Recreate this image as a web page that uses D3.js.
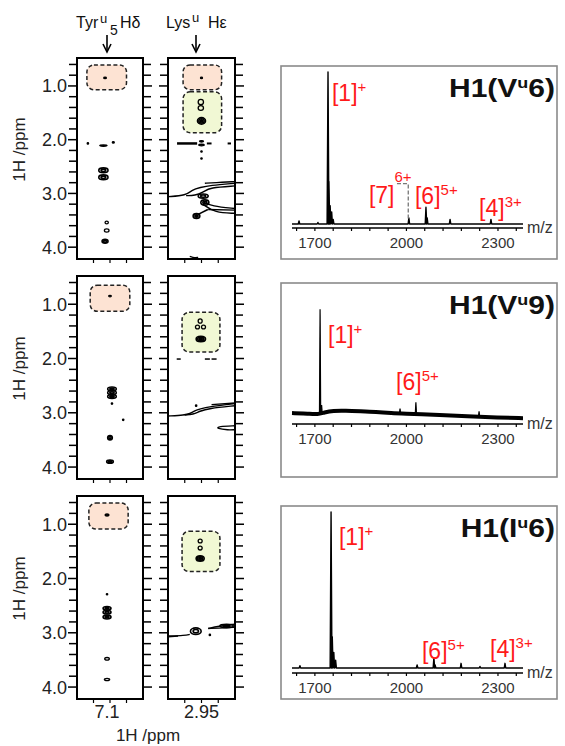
<!DOCTYPE html>
<html>
<head>
<meta charset="utf-8">
<script src="https://cdnjs.cloudflare.com/ajax/libs/d3/7.8.5/d3.min.js"></script>
<style>
body { margin: 0; background: #fff; }
svg { display: block; font-family: "Liberation Sans", Arial, sans-serif; }
</style>
</head>
<body>
<svg id="fig" width="565" height="746"></svg>
<script>
// ---------- NMR strips (values in ppm) ----------
var ppmRange = [0.48, 4.22];
var yTicks = d3.range(0.6, 4.05, 0.2);
var yLabels = [1.0, 2.0, 3.0, 4.0];
var tyrRange = [7.2, 7.0];
var lysRange = [3.05, 2.85];
var tyrTicks = [7.15, 7.1, 7.05];
var lysTicks = [3.0, 2.95, 2.9];
var xLabels = ["7.1", "2.95"];

// highlight regions: row, col, x0, x1, y0, y1, kind
var boxes = [
    [0, 0, 7.17, 7.05, 0.61, 1.07, "m"],
    [0, 1, 3.005, 2.89, 0.61, 1.07, "m"],
    [0, 1, 3.005, 2.89, 1.11, 1.87, "g"],
    [1, 0, 7.16, 7.04, 0.65, 1.13, "m"],
    [1, 1, 3.008, 2.895, 1.15, 1.88, "g"],
    [2, 0, 7.164, 7.045, 0.61, 1.09, "m"],
    [2, 1, 3.008, 2.895, 1.13, 1.87, "g"]
];

// cross peaks: row, col, x, y, half width x, half width y, contour levels, filled
var peaks = [
    [0, 0, 7.115, 0.85, 0.004, 0.015, 1, true],
    [0, 0, 7.12, 2.11, 0.011, 0.012, 1, true],
    [0, 0, 7.167, 2.07, 0.002, 0.01, 1, true],
    [0, 0, 7.09, 2.05, 0.003, 0.01, 1, true],
    [0, 0, 7.12, 2.57, 0.014, 0.045, 2, false],
    [0, 0, 7.12, 2.70, 0.014, 0.045, 2, false],
    [0, 0, 7.11, 3.54, 0.005, 0.025, 1, false],
    [0, 0, 7.11, 3.69, 0.007, 0.03, 1, false],
    [0, 0, 7.115, 3.89, 0.009, 0.035, 2, false],
    [0, 1, 2.95, 0.85, 0.003, 0.012, 1, true],
    [0, 1, 2.952, 1.30, 0.008, 0.05, 1, false],
    [0, 1, 2.952, 1.41, 0.008, 0.045, 1, false],
    [0, 1, 2.95, 1.65, 0.012, 0.06, 3, true],
    [0, 1, 2.95, 2.03, 0.006, 0.012, 1, true],
    [0, 1, 2.95, 2.10, 0.008, 0.015, 1, true],
    [0, 1, 2.95, 2.22, 0.002, 0.01, 1, true],
    [0, 1, 2.95, 2.35, 0.002, 0.01, 1, true],
    [0, 1, 2.965, 3.42, 0.01, 0.045, 2, true],
    [0, 1, 2.945, 3.05, 0.015, 0.04, 2, false],
    [0, 1, 2.94, 3.17, 0.012, 0.05, 2, false],
    [1, 0, 7.1, 0.85, 0.004, 0.012, 1, false],
    [1, 0, 7.094, 2.56, 0.013, 0.035, 2, true],
    [1, 0, 7.094, 2.63, 0.013, 0.035, 2, false],
    [1, 0, 7.094, 2.70, 0.013, 0.035, 2, true],
    [1, 0, 7.094, 2.83, 0.002, 0.01, 1, true],
    [1, 0, 7.06, 3.13, 0.002, 0.008, 1, true],
    [1, 0, 7.1, 3.46, 0.007, 0.04, 2, false],
    [1, 0, 7.1, 3.9, 0.01, 0.03, 2, true],
    [1, 1, 2.954, 1.31, 0.006, 0.04, 1, false],
    [1, 1, 2.962, 1.42, 0.006, 0.035, 1, false],
    [1, 1, 2.944, 1.42, 0.006, 0.035, 1, false],
    [1, 1, 2.952, 1.64, 0.014, 0.05, 3, true],
    [1, 1, 2.966, 2.87, 0.002, 0.008, 1, true],
    [2, 0, 7.109, 0.83, 0.006, 0.02, 1, true],
    [2, 0, 7.109, 2.29, 0.002, 0.01, 1, true],
    [2, 0, 7.109, 2.55, 0.012, 0.035, 2, true],
    [2, 0, 7.109, 2.62, 0.012, 0.035, 2, false],
    [2, 0, 7.109, 2.71, 0.012, 0.035, 2, true],
    [2, 0, 7.109, 3.48, 0.007, 0.025, 1, false],
    [2, 0, 7.109, 3.86, 0.008, 0.02, 1, false],
    [2, 1, 2.954, 1.31, 0.006, 0.035, 1, false],
    [2, 1, 2.954, 1.44, 0.006, 0.035, 1, false],
    [2, 1, 2.954, 1.63, 0.012, 0.05, 3, true],
    [2, 1, 2.967, 2.97, 0.016, 0.06, 2, false],
    [2, 1, 2.925, 3.04, 0.002, 0.008, 1, true],
    [2, 1, 2.875, 2.875, 0.02, 0.03, 2, false]
];

// ridges / streaks in the Lys strips: row, line width, points [x, y]
var ridges = [
    [0, 2.5, [[3.023, 2.07], [2.963, 2.07]]],
    [0, 2, [[2.934, 2.07], [2.92, 2.07]]],
    [0, 2, [[2.872, 2.07], [2.862, 2.07]]],
    [0, 1.4, [[3.05, 3.06], [2.996, 3.04], [2.978, 2.93], [2.954, 2.89], [2.925, 2.85], [2.85, 2.81]]],
    [0, 1.4, [[2.996, 3.04], [2.969, 3.04], [2.946, 2.98], [2.925, 2.89], [2.85, 2.86]]],
    [0, 1.4, [[2.94, 2.81], [2.91, 2.80], [2.85, 2.78]]],
    [0, 1.4, [[2.946, 3.15], [2.919, 3.24], [2.85, 3.28]]],
    [0, 1.4, [[2.946, 3.2], [2.91, 3.36], [2.85, 3.37]]],
    [0, 1.4, [[2.93, 3.3], [2.85, 3.31]]],
    [0, 1.6, [[2.96, 3.39], [2.931, 3.30]]],
    [0, 1.3, [[2.985, 4.17], [2.97, 4.2], [2.96, 4.19]]],
    [1, 1.5, [[3.024, 2.01], [3.012, 2.01]]],
    [1, 1.5, [[2.94, 2.01], [2.925, 2.01]]],
    [1, 1.5, [[2.92, 2.01], [2.905, 2.01]]],
    [1, 1.4, [[3.05, 3.06], [3.0, 3.04], [2.985, 3.02], [2.97, 2.96], [2.954, 2.93], [2.93, 2.89], [2.85, 2.83]]],
    [1, 1.4, [[3.0, 3.04], [2.975, 3.03], [2.955, 2.97], [2.93, 2.92], [2.85, 2.87]]],
    [1, 1.4, [[2.92, 2.85], [2.85, 2.82]]],
    [1, 1.4, [[2.85, 3.24], [2.9, 3.25], [2.905, 3.29], [2.87, 3.32], [2.85, 3.31]]],
    [2, 1.4, [[3.05, 3.06], [3.0, 3.05], [2.985, 3.03]]],
    [2, 1.4, [[3.05, 3.075], [3.02, 3.06]]],
    [2, 1.4, [[2.93, 2.92], [2.9, 2.88], [2.85, 2.84]]],
    [2, 1.4, [[2.93, 2.92], [2.88, 2.91], [2.85, 2.895]]]
];

// ---------- MALDI spectra ----------
var mzDomain = [1625, 2382];
var mzTicks = d3.range(1640, 2381, 60);
var mzLabels = [1700, 2000, 2300];
var msTitles = [["H1(V", "u", "6)"], ["H1(V", "u", "9)"], ["H1(I", "u", "6)"]];
// [m/z, relative intensity]
var spec1 = [[1648, 2], [1710, 1], [1743, 100], [1746, 28], [1750, 12], [1755, 8], [1760, 3],
             [2008, 4], [2064, 11], [2068, 4], [2143, 3], [2277, 3]];
var spec2 = [[1717, 84], [1722, 8], [1979, 5], [2031, 10], [2238, 3]];
var spec3 = [[1651, 1.5], [1753, 100], [1757, 20], [1762, 10], [1768, 5],
             [2035, 2], [2090, 6.5], [2094, 2], [2179, 3], [2241, 1], [2323, 3]];
var noise2 = [[1625, 1.5], [1680, 1.0], [1710, 0.5], [1730, 2], [1760, 3.5], [1800, 3.5],
              [1850, 3], [1900, 2.5], [1950, 1.5], [2000, 1], [2050, 0.5], [2100, 0],
              [2200, -1], [2300, -2], [2382, -2.5]];
// label: ion number, charge, m/z anchor, intensity anchor
var ions1 = [["1", "+", 1756, 81], ["7", "6+", 1877, 14], ["6", "5+", 2028, 13], ["4", "3+", 2238, 5]];
var ions2 = [["1", "+", 1743, 57], ["6", "5+", 1966, 20]];
var ions3 = [["1", "+", 1779, 79], ["6", "5+", 2051, 6], ["4", "3+", 2274, 7]];
var connector1 = [[1969, 26.5], [2006, 26.5], [2006, 3]];

var svg = d3.select("#fig");
svg.append("rect").attr("width", 565).attr("height", 746).attr("fill", "#fff");

// ---------- NMR layout ----------
var rowTop = [58, 276, 496], rowBottom = [259, 479, 699];
var colLeft = [77, 168], colRight = [143, 235];
var boxColors = { m: "#fde3d3", g: "#f1f8d4" };

function xScaleFor(col) {
    return d3.scaleLinear().domain(col == 0 ? tyrRange : lysRange).range([colLeft[col], colRight[col]]);
}
function yScaleFor(row) {
    return d3.scaleLinear().domain(ppmRange).range([rowTop[row], rowBottom[row]]);
}

for (var r = 0; r < 3; r++) {
    var y = yScaleFor(r);
    for (var c = 0; c < 2; c++) {
        var x = xScaleFor(c);
        var g = svg.append("g");
        // highlight boxes
        boxes.filter(function (b) { return b[0] == r && b[1] == c; }).forEach(function (b) {
            g.append("rect")
                .attr("x", x(b[2])).attr("y", y(b[4]))
                .attr("width", x(b[3]) - x(b[2])).attr("height", y(b[5]) - y(b[4]))
                .attr("rx", 7).attr("ry", 7)
                .attr("fill", boxColors[b[6]])
                .attr("stroke", "#222").attr("stroke-width", 1.5)
                .attr("stroke-dasharray", "4,2.5");
        });
        // ridges
        var line = d3.line().x(function (d) { return x(d[0]); }).y(function (d) { return y(d[1]); }).curve(d3.curveBasis);
        ridges.filter(function (rd) { return rd[0] == r && c == 1; }).forEach(function (rd) {
            g.append("path").attr("d", line(rd[2])).attr("fill", "none")
                .attr("stroke", "#000").attr("stroke-width", rd[1]);
        });
        // peaks
        peaks.filter(function (p) { return p[0] == r && p[1] == c; }).forEach(function (p) {
            var rx = Math.abs(x(p[2] + p[4]) - x(p[2]));
            var ry = Math.abs(y(p[3] + p[5]) - y(p[3]));
            for (var k = p[6]; k >= 1; k--) {
                g.append("ellipse")
                    .attr("cx", x(p[2])).attr("cy", y(p[3]))
                    .attr("rx", Math.max(rx * k / p[6], 0.7)).attr("ry", Math.max(ry * k / p[6], 0.7))
                    .attr("fill", (k == 1 && p[7]) ? "#000" : "none")
                    .attr("stroke", "#000").attr("stroke-width", p[6] > 1 ? 1.6 : 1.3);
            }
        });
        // frame
        g.append("rect").attr("x", colLeft[c]).attr("y", rowTop[r])
            .attr("width", colRight[c] - colLeft[c]).attr("height", rowBottom[r] - rowTop[r])
            .attr("fill", "none").attr("stroke", "#000").attr("stroke-width", 2);
        // y ticks both sides
        yTicks.forEach(function (t) {
            var len = yLabels.some(function (v) { return Math.abs(v - t) < 1e-6; }) ? 9 : 8;
            g.append("line").attr("x1", colLeft[c] - len).attr("x2", colLeft[c])
                .attr("y1", y(t)).attr("y2", y(t)).attr("stroke", "#000").attr("stroke-width", 1.5);
            g.append("line").attr("x1", colRight[c]).attr("x2", colRight[c] + len)
                .attr("y1", y(t)).attr("y2", y(t)).attr("stroke", "#000").attr("stroke-width", 1.5);
        });
        // x ticks at bottom
        (c == 0 ? tyrTicks : lysTicks).forEach(function (t) {
            g.append("line").attr("x1", x(t)).attr("x2", x(t))
                .attr("y1", rowBottom[r]).attr("y2", rowBottom[r] + 4)
                .attr("stroke", "#000").attr("stroke-width", 1.2);
        });
        if (c == 0) {
            yLabels.forEach(function (t) {
                g.append("text").attr("x", 67).attr("y", y(t) + 6.5)
                    .attr("text-anchor", "end").attr("font-size", 18).attr("fill", "#222")
                    .text(t.toFixed(1));
            });
        }
    }
    svg.append("text")
        .attr("transform", "translate(25," + ((rowTop[r] + rowBottom[r]) / 2 - 9) + ") rotate(-90)")
        .attr("text-anchor", "middle").attr("font-size", 17).attr("fill", "#222")
        .text("1H /ppm");
}

// bottom x labels
svg.append("text").attr("x", xScaleFor(0)(7.1) - 3).attr("y", 718).attr("text-anchor", "middle")
    .attr("font-size", 18).attr("fill", "#222").text(xLabels[0]);
svg.append("text").attr("x", xScaleFor(1)(2.95)).attr("y", 718).attr("text-anchor", "middle")
    .attr("font-size", 18).attr("fill", "#222").text(xLabels[1]);
svg.append("text").attr("x", 148).attr("y", 741).attr("text-anchor", "middle")
    .attr("font-size", 17).attr("fill", "#222").text("1H /ppm");

// column headers with arrows; parts: x, y, size, text
function header(parts, arrowX) {
    parts.forEach(function (p) {
        svg.append("text").attr("x", p[0]).attr("y", p[1])
            .attr("font-size", p[2]).attr("fill", "#111").text(p[3]);
    });
    svg.append("line").attr("x1", arrowX).attr("x2", arrowX).attr("y1", 35).attr("y2", 51)
        .attr("stroke", "#000").attr("stroke-width", 1.6);
    svg.append("path").attr("d", "M" + (arrowX - 4) + ",44 L" + arrowX + ",52 L" + (arrowX + 4) + ",44")
        .attr("fill", "none").attr("stroke", "#000").attr("stroke-width", 1.6);
}
header([[76, 28, 16, "Tyr"], [100, 23, 13, "u"], [110, 35, 14, "5"], [120, 28, 16, "H\u03b4"]], 107);
header([[166, 28, 16, "Lys"], [192, 22, 13, "u"], [208, 28, 16, "H\u03b5"]], 196);

// ---------- MS panels ----------
var msLeft = 281, msRight = 557;
var msBox = [
    { top: 66, bottom: 259, base: 224, axis: 228 },
    { top: 283, bottom: 477, base: 415, axis: 424 },
    { top: 506, bottom: 699, base: 668, axis: 673 }
];
var specs = [spec1, spec2, spec3];
var ions = [ions1, ions2, ions3];
var mz = d3.scaleLinear().domain(mzDomain).range([292, 523]);

msBox.forEach(function (b, i) {
    var g = svg.append("g");
    var inten = d3.scaleLinear().domain([0, 100]).range([b.base, b.top + 6]);
    g.append("rect").attr("x", msLeft).attr("y", b.top)
        .attr("width", msRight - msLeft).attr("height", b.bottom - b.top)
        .attr("fill", "#fff").attr("stroke", "#8a8a8a").attr("stroke-width", 1.6);

    // spectrum trace
    var pts = [[mzDomain[0], 0]];
    specs[i].slice().sort(function (a, b2) { return a[0] - b2[0]; }).forEach(function (p) {
        var w = p[1] > 50 ? 3 : 2.5;
        pts.push([p[0] - w, 0], [p[0], p[1]], [p[0] + w, 0]);
    });
    pts.push([mzDomain[1], 0]);
    var trace = d3.line().x(function (d) { return mz(d[0]); }).y(function (d) { return inten(d[1]); });
    if (i == 1) {
        var base = d3.scaleLinear().domain(noise2.map(function (d) { return d[0]; }))
            .range(noise2.map(function (d) { return d[1]; }));
        var band = d3.line().x(function (d) { return mz(d[0]); }).y(function (d) { return inten(d[1]); })
            .curve(d3.curveBasis);
        g.append("path").attr("d", band(noise2)).attr("fill", "none")
            .attr("stroke", "#000").attr("stroke-width", 4);
        specs[i].forEach(function (p) {
            var b0 = base(p[0]);
            g.append("path").attr("d", trace([[p[0] - 2, b0], [p[0], p[1]], [p[0] + 2, b0]]))
                .attr("fill", "#000").attr("stroke", "#000").attr("stroke-width", 1.2);
        });
    } else {
        g.append("path").attr("d", trace(pts)).attr("fill", "#000")
            .attr("stroke", "#000").attr("stroke-width", 1.4).attr("stroke-linejoin", "round");
    }

    // x axis
    g.append("line").attr("x1", mz(mzDomain[0])).attr("x2", mz(mzDomain[1]))
        .attr("y1", b.axis).attr("y2", b.axis).attr("stroke", "#000").attr("stroke-width", 1.5);
    mzTicks.forEach(function (t) {
        g.append("line").attr("x1", mz(t)).attr("x2", mz(t)).attr("y1", b.axis).attr("y2", b.axis + 3)
            .attr("stroke", "#000").attr("stroke-width", 1.2);
    });
    mzLabels.forEach(function (t) {
        g.append("text").attr("x", mz(t)).attr("y", b.axis + 20).attr("text-anchor", "middle")
            .attr("font-size", 15).attr("fill", "#333").text(t);
    });
    g.append("text").attr("x", 527).attr("y", b.axis + 5).attr("font-size", 16).attr("fill", "#333").text("m/z");

    // ion labels; the [7] label sits higher so its charge clears the dashed leader
    ions[i].forEach(function (l) {
        var t = g.append("text").attr("x", mz(l[2])).attr("y", inten(l[3]))
            .attr("font-size", 23).attr("fill", "#ff1a1a");
        t.append("tspan").text("[" + l[0] + "]");
        t.append("tspan").attr("font-size", 15).attr("dy", l[0] == "7" ? -21 : -9).text(l[1]);
    });
    if (i == 0) {
        g.append("path").attr("d", trace(connector1)).attr("fill", "none")
            .attr("stroke", "#777").attr("stroke-width", 1.3).attr("stroke-dasharray", "4,2");
    }

    // title
    var tt = g.append("text").attr("transform", "translate(555," + (b.top + 31) + ") scale(1.2,1)")
        .attr("text-anchor", "end").attr("font-size", 25).attr("font-weight", "bold").attr("fill", "#111");
    tt.append("tspan").text(msTitles[i][0]);
    tt.append("tspan").attr("font-size", 15).attr("dy", -9).text(msTitles[i][1]);
    tt.append("tspan").attr("dy", 9).text(msTitles[i][2]);
});
</script>
</body>
</html>
